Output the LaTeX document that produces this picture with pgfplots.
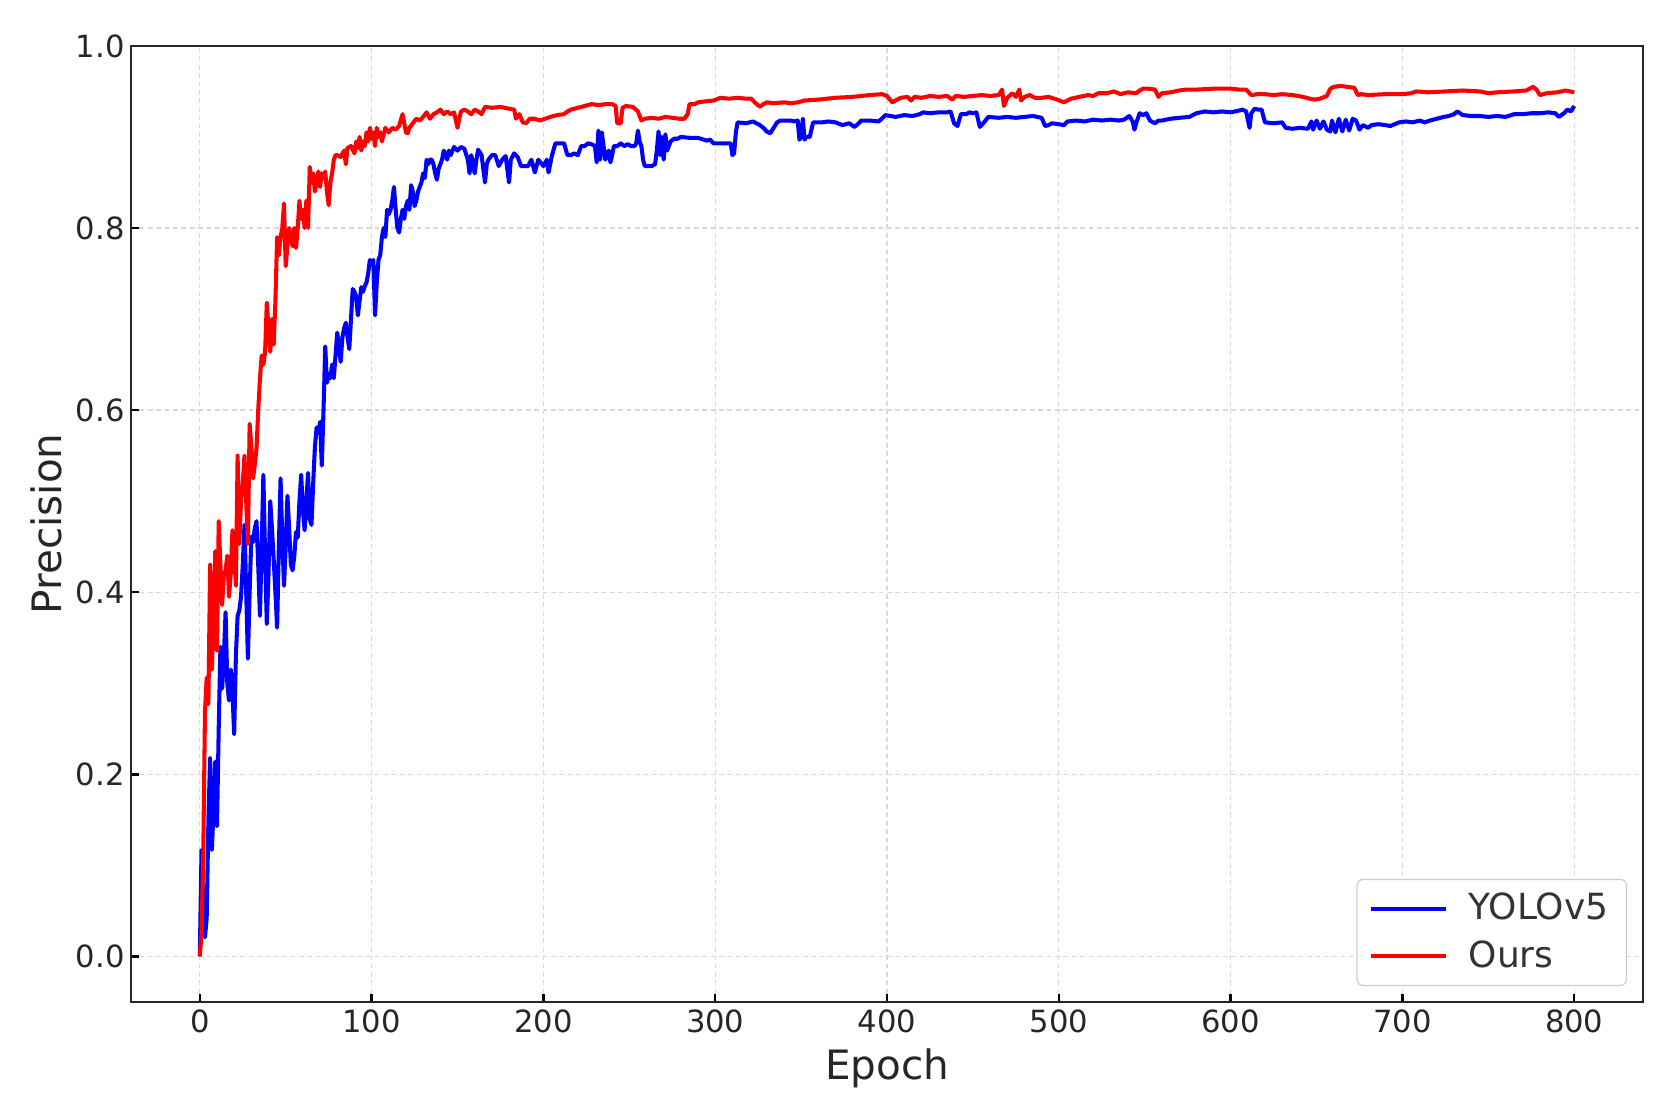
\documentclass[border=0pt]{standalone}
\usepackage{fontspec}
\setmainfont{DejaVu Sans}
\usepackage{pgfplots}
\pgfplotsset{compat=1.18}
\usepackage{pgfplotstable}

\pgfplotstableread{
x y
0 0
1 0.117
2 0.06
3 0.021
4 0.042
5 0.15
6 0.218
7 0.117
8 0.16
9 0.214
10 0.143
11 0.25
12 0.34
13 0.294
14 0.33
15 0.378
16 0.30
17 0.281
18 0.315
19 0.29
20 0.244
21 0.33
22 0.374
23 0.38
24 0.395
25 0.43
26 0.474
27 0.40
28 0.327
29 0.40
30 0.461
31 0.455
32 0.47
33 0.478
34 0.43
35 0.374
36 0.45
37 0.529
38 0.44
39 0.365
40 0.42
41 0.50
42 0.47
43 0.436
44 0.40
45 0.361
46 0.45
47 0.525
48 0.46
49 0.407
50 0.45
51 0.506
52 0.47
53 0.43
54 0.424
55 0.44
56 0.466
57 0.46
58 0.50
59 0.529
60 0.49
61 0.468
62 0.50
63 0.531
64 0.48
65 0.474
66 0.52
67 0.56
68 0.581
69 0.575
70 0.587
71 0.539
72 0.60
73 0.67
74 0.63
75 0.64
76 0.635
77 0.65
78 0.635
79 0.66
80 0.685
81 0.67
82 0.653
83 0.68
84 0.69
85 0.696
86 0.68
87 0.667
88 0.70
89 0.733
90 0.73
91 0.725
92 0.704
93 0.72
94 0.735
95 0.73
96 0.736
97 0.74
98 0.75
99 0.765
100 0.76
101 0.765
102 0.704
103 0.74
104 0.765
105 0.77
106 0.79
107 0.80
108 0.79
109 0.82
110 0.815
111 0.82
112 0.83
113 0.845
114 0.82
115 0.80
116 0.795
117 0.81
118 0.82
119 0.81
120 0.824
121 0.83
122 0.82
123 0.847
124 0.84
125 0.824
126 0.83
127 0.84
128 0.845
129 0.85
130 0.86
131 0.855
132 0.875
133 0.87
134 0.875
135 0.875
136 0.87
137 0.86
138 0.853
139 0.865
140 0.87
141 0.875
142 0.885
143 0.88
144 0.875
145 0.885
146 0.88
148 0.889
150 0.885
152 0.889
154 0.887
156 0.875
157 0.86
158 0.88
159 0.87
160 0.86
161 0.875
162 0.886
164 0.88
166 0.85
167 0.87
168 0.875
170 0.88
172 0.88
174 0.868
176 0.875
178 0.879
180 0.85
181 0.875
183 0.882
185 0.878
187 0.868
189 0.868
191 0.868
193 0.875
195 0.861
197 0.875
200 0.868
202 0.875
203 0.861
205 0.88
207 0.893
210 0.893
212 0.893
214 0.88
216 0.88
218 0.882
220 0.88
222 0.89
224 0.89
226 0.893
228 0.892
230 0.89
231 0.872
232 0.907
233 0.875
234 0.905
236 0.875
238 0.885
239 0.872
240 0.88
241 0.89
243 0.89
245 0.893
247 0.89
249 0.892
251 0.89
253 0.89
254 0.893
255 0.907
256 0.895
257 0.89
258 0.875
259 0.868
261 0.868
263 0.868
265 0.87
266 0.885
267 0.906
268 0.88
269 0.9
270 0.875
271 0.903
272 0.885
274 0.895
276 0.898
278 0.898
280 0.9
285 0.899
290 0.899
295 0.896
297 0.897
299 0.893
305 0.893
309 0.893
310 0.88
311 0.882
312 0.905
313 0.916
318 0.915
322 0.917
326 0.913
328 0.91
330 0.906
332 0.904
334 0.91
336 0.916
338 0.918
344 0.918
346 0.917
348 0.918
349 0.897
350 0.9
351 0.92
352 0.897
353 0.9
355 0.9
357 0.916
362 0.916
366 0.917
370 0.916
374 0.913
378 0.915
381 0.911
383 0.914
385 0.918
390 0.918
395 0.917
397 0.92
399 0.924
405 0.922
410 0.924
415 0.923
419 0.925
421 0.927
425 0.926
430 0.927
435 0.927
437 0.928
439 0.915
441 0.912
443 0.925
446 0.925
448 0.927
450 0.926
452 0.927
454 0.911
456 0.915
459 0.922
465 0.921
470 0.922
475 0.921
480 0.922
485 0.923
490 0.921
492 0.912
494 0.913
496 0.915
500 0.914
503 0.913
505 0.917
510 0.918
515 0.917
520 0.919
525 0.918
530 0.919
535 0.918
538 0.919
541 0.923
543 0.917
544 0.908
545 0.915
547 0.926
549 0.924
551 0.926
553 0.918
556 0.915
558 0.918
560 0.918
565 0.92
570 0.921
576 0.922
580 0.926
585 0.928
590 0.927
595 0.928
600 0.927
605 0.929
607 0.93
609 0.928
611 0.91
612 0.926
614 0.931
616 0.93
618 0.93
620 0.916
625 0.915
630 0.916
632 0.91
636 0.909
640 0.91
645 0.909
647 0.917
648 0.908
650 0.918
652 0.909
654 0.917
656 0.908
658 0.906
659 0.918
661 0.905
663 0.92
665 0.906
667 0.919
669 0.907
671 0.92
673 0.918
675 0.908
677 0.913
680 0.91
682 0.913
686 0.914
690 0.913
693 0.912
698 0.916
702 0.917
706 0.916
710 0.918
713 0.916
716 0.918
720 0.92
724 0.922
727 0.923
730 0.925
732 0.928
735 0.924
740 0.923
745 0.923
750 0.922
755 0.923
760 0.922
765 0.925
770 0.925
775 0.926
780 0.926
785 0.927
789 0.926
791 0.922
794 0.926
796 0.93
798 0.928
800 0.934
}\yolo

\pgfplotstableread{
x y
0 0.0
1 0.025
2 0.11
3 0.268
4 0.306
5 0.277
6 0.43
7 0.315
8 0.37
9 0.445
10 0.336
11 0.478
12 0.43
13 0.386
14 0.42
15 0.424
16 0.44
17 0.395
18 0.42
19 0.468
20 0.44
21 0.407
22 0.55
23 0.453
24 0.50
25 0.52
26 0.55
27 0.50
28 0.453
29 0.585
30 0.56
31 0.525
32 0.54
33 0.558
34 0.60
35 0.634
36 0.66
37 0.65
38 0.664
39 0.718
40 0.69
41 0.664
42 0.70
43 0.672
44 0.72
45 0.79
46 0.77
47 0.79
48 0.80
49 0.827
50 0.758
51 0.78
52 0.80
53 0.79
54 0.78
55 0.80
56 0.778
57 0.80
58 0.83
59 0.81
60 0.82
61 0.80
62 0.83
63 0.80
64 0.867
65 0.85
66 0.86
67 0.84
68 0.85
69 0.862
70 0.845
71 0.86
72 0.855
73 0.862
74 0.84
75 0.825
76 0.85
77 0.86
78 0.875
79 0.88
80 0.88
82 0.878
84 0.885
85 0.87
86 0.888
88 0.89
90 0.882
91 0.895
92 0.888
93 0.9
94 0.885
95 0.895
96 0.89
97 0.905
98 0.895
99 0.91
100 0.898
101 0.905
102 0.89
103 0.91
104 0.9
105 0.905
106 0.895
108 0.91
110 0.905
112 0.91
114 0.908
116 0.912
118 0.925
119 0.915
120 0.905
121 0.904
122 0.91
124 0.915
126 0.92
128 0.918
130 0.922
132 0.927
134 0.92
136 0.925
138 0.927
140 0.93
142 0.925
144 0.928
146 0.925
148 0.927
150 0.91
151 0.92
152 0.928
154 0.93
156 0.928
158 0.925
160 0.93
162 0.928
164 0.925
166 0.933
170 0.932
175 0.933
180 0.931
183 0.93
184 0.92
186 0.925
188 0.916
190 0.915
192 0.92
195 0.92
198 0.918
201 0.92
204 0.922
208 0.924
212 0.925
214 0.928
216 0.93
220 0.932
224 0.934
228 0.936
232 0.935
236 0.936
240 0.936
242 0.934
243 0.915
245 0.915
246 0.932
248 0.934
252 0.933
255 0.928
257 0.918
259 0.92
263 0.921
267 0.92
271 0.922
275 0.921
279 0.92
282 0.92
284 0.925
285 0.936
288 0.936
290 0.938
294 0.939
299 0.94
303 0.943
308 0.942
313 0.943
318 0.942
321 0.942
323 0.938
326 0.933
328 0.936
330 0.938
334 0.937
340 0.938
344 0.937
348 0.938
352 0.94
360 0.941
370 0.943
380 0.944
390 0.946
397 0.947
400 0.945
403 0.938
405 0.94
408 0.943
412 0.944
414 0.94
416 0.944
420 0.943
425 0.945
430 0.944
435 0.945
438 0.941
440 0.945
445 0.944
450 0.945
455 0.946
460 0.945
465 0.946
467 0.952
468 0.934
470 0.943
473 0.948
475 0.944
477 0.952
478 0.94
480 0.944
483 0.946
486 0.943
490 0.943
494 0.944
499 0.941
503 0.938
507 0.942
512 0.944
517 0.946
520 0.945
523 0.948
528 0.948
532 0.95
536 0.947
540 0.949
545 0.948
547 0.951
549 0.953
552 0.953
556 0.952
558 0.944
560 0.948
565 0.949
570 0.951
574 0.952
580 0.952
590 0.953
600 0.953
605 0.952
609 0.952
612 0.946
616 0.947
620 0.947
625 0.946
630 0.947
636 0.946
642 0.944
646 0.942
649 0.941
652 0.942
656 0.945
658 0.953
660 0.955
664 0.956
668 0.955
672 0.954
674 0.946
676 0.947
680 0.946
690 0.947
700 0.947
705 0.948
708 0.95
715 0.949
725 0.95
735 0.951
745 0.95
750 0.948
755 0.949
765 0.95
772 0.951
776 0.955
778 0.952
780 0.946
784 0.948
790 0.949
795 0.951
800 0.949
}\ours

\begin{document}
\begin{tikzpicture}
\path[use as bounding box] (-43.7pt,-35.7pt) rectangle (514pt,334pt);
\begin{axis}[
  scale only axis,
  width=504pt, height=318.7pt,
  xmin=-40, xmax=840, ymin=-0.05, ymax=1.0,
  xtick={0,100,200,300,400,500,600,700,800},
  ytick={0,0.2,0.4,0.6,0.8,1.0},
  yticklabel style={inner sep=2pt, /pgf/number format/.cd, fixed, fixed zerofill, precision=1},
  xticklabel style={inner sep=2.5pt},
  /pgf/number format/assume math mode=true,
  tick pos=left, tick align=inside,
  major tick length=2.7pt,
  tick style={black, line width=0.8pt},
  ticklabel style={font=\fontsize{10.2}{12}\selectfont, text=black!85},
  axis line style={black!85, line width=0.9pt},
  grid=major,
  grid style={gray!30, line width=0.4pt, dash pattern=on 1.6pt off 1.2pt},
  xlabel={Epoch}, ylabel={Precision},
  every axis x label/.style={at={(axis description cs:0.5,-0.069)}, anchor=center,
    font=\fontsize{13.5}{16}\selectfont, text=black!85},
  every axis y label/.style={at={(axis description cs:-0.056,0.5)}, rotate=90, anchor=center,
    font=\fontsize{13.5}{16}\selectfont, text=black!85},
  legend style={at={(1,0)}, anchor=south east, xshift=-5.3pt, yshift=5.3pt,
    draw=black!20, rounded corners=2pt, fill=white,
    font=\fontsize{12}{14}\selectfont, text=black!80,
    inner xsep=4pt, inner ysep=2.5pt, row sep=1.5pt},
  legend cell align=left,
  legend image code/.code={\draw[#1, line width=1.3pt] (0pt,0pt) -- (25pt,0pt);},
  /tikz/every odd column/.append style={column sep=5pt},
]
\addplot[blue, line width=1.35pt, line join=round] table[x=x, y=y] {\yolo};
\addlegendentry{YOLOv5}
\addplot[red, line width=1.35pt, line join=round] table[x=x, y=y] {\ours};
\addlegendentry{Ours}
\end{axis}
\end{tikzpicture}
\end{document}
